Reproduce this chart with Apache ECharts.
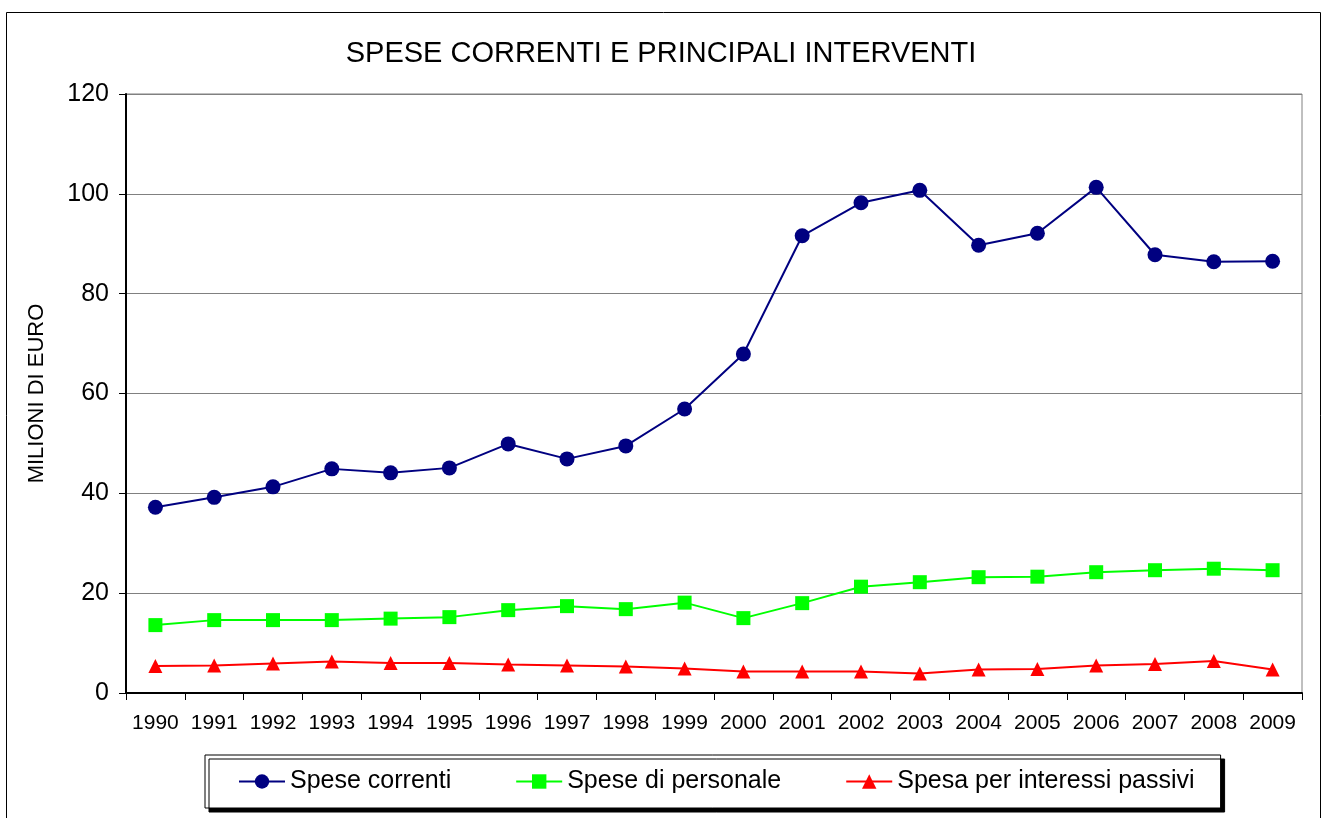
<!DOCTYPE html>
<html>
<head>
<meta charset="utf-8">
<title>Spese correnti</title>
<script src="https://cdn.jsdelivr.net/npm/echarts@6/dist/echarts.min.js"></script>
<style>
  html, body { margin: 0; padding: 0; background: #fff; }
  #chart { width: 1322px; height: 818px; }
</style>
</head>
<body>
<div id="chart"></div>
<script>
// anni
const years = ["1990", "1991", "1992", "1993", "1994", "1995", "1996", "1997", "1998", "1999",
  "2000", "2001", "2002", "2003", "2004", "2005", "2006", "2007", "2008", "2009"];
// valori in milioni di euro
const speseCorrenti = [37.2, 39.2, 41.3, 44.9, 44.1, 45.1, 49.9, 46.9, 49.5, 56.9,
  67.9, 91.6, 98.2, 100.7, 89.7, 92.1, 101.3, 87.8, 86.4, 86.5];
const spesePersonale = [13.6, 14.6, 14.6, 14.6, 14.9, 15.2, 16.6, 17.4, 16.8, 18.1,
  15.0, 18.0, 21.3, 22.2, 23.2, 23.3, 24.2, 24.6, 24.9, 24.6];
const interessiPassivi = [5.4, 5.5, 5.9, 6.3, 6.0, 6.0, 5.7, 5.5, 5.3, 4.9,
  4.3, 4.3, 4.3, 3.9, 4.7, 4.8, 5.5, 5.8, 6.4, 4.7];
const yTicks = [0, 20, 40, 60, 80, 100, 120];

const font = "Liberation Sans, Arial, sans-serif";

const chart = echarts.init(document.getElementById("chart"));

const option = {
  backgroundColor: "#fff",
  animation: false,
  title: {
    text: "SPESE CORRENTI E PRINCIPALI INTERVENTI",
    left: "center",
    top: 34,
    textStyle: { fontFamily: font, fontSize: 29, fontWeight: "normal", color: "#000" },
  },
  graphic: [
    {
      type: "rect",
      shape: { x: 6.5, y: 12.5, width: 1314, height: 820 },
      style: { fill: "none", stroke: "#000", lineWidth: 1 },
      silent: true,
      z: -10,
    },
  ],
  legend: {
    left: 205,
    top: 755,
    padding: [14, 26, 14, 33],
    itemGap: 64,
    itemWidth: 46,
    itemHeight: 18,
    backgroundColor: "#fff",
    borderColor: "#000",
    borderWidth: 1,
    shadowColor: "#000",
    shadowOffsetX: 4,
    shadowOffsetY: 4,
    shadowBlur: 0,
    textStyle: { fontFamily: font, fontSize: 25, color: "#000" },
    data: ["Spese correnti", "Spese di personale", "Spesa per interessi passivi"],
  },
  grid: {
    left: 126,
    top: 94,
    right: 20,
    bottom: 125,
    show: true,
    borderColor: "#808080",
    borderWidth: 1,
  },
  xAxis: {
    type: "category",
    data: years,
    boundaryGap: true,
    axisLine: { lineStyle: { color: "#000", width: 2 } },
    axisTick: { show: true, length: 7, lineStyle: { color: "#000", width: 1 } },
    axisLabel: { fontFamily: font, fontSize: 21, color: "#000", margin: 20, interval: 0 },
  },
  yAxis: {
    type: "value",
    min: 0,
    max: 120,
    interval: 20,
    name: "MILIONI DI EURO",
    nameLocation: "middle",
    nameGap: 78,
    nameRotate: 90,
    nameTextStyle: { fontFamily: font, fontSize: 22, color: "#000" },
    axisLine: { show: true, lineStyle: { color: "#000", width: 2 } },
    axisTick: { show: true, length: 7, lineStyle: { color: "#000" } },
    axisLabel: {
      fontFamily: font, fontSize: 25, color: "#000", margin: 17,
      formatter: (v) => (yTicks.includes(v) ? String(v) : ""),
    },
    splitLine: { show: true, lineStyle: { color: "#808080", width: 1 } },
  },
  series: [
    {
      name: "Spese correnti",
      type: "line",
      data: speseCorrenti,
      symbol: "circle",
      symbolSize: 15,
      color: "#000080",
      lineStyle: { color: "#000080", width: 2 },
      itemStyle: { color: "#000080" },
    },
    {
      name: "Spese di personale",
      type: "line",
      data: spesePersonale,
      symbol: "rect",
      symbolSize: 14,
      color: "#00ff00",
      lineStyle: { color: "#00ff00", width: 2 },
      itemStyle: { color: "#00ff00" },
    },
    {
      name: "Spesa per interessi passivi",
      type: "line",
      data: interessiPassivi,
      symbol: "triangle",
      symbolSize: 14,
      color: "#ff0000",
      lineStyle: { color: "#ff0000", width: 2 },
      itemStyle: { color: "#ff0000" },
    },
  ],
};

chart.setOption(option);
</script>
</body>
</html>
